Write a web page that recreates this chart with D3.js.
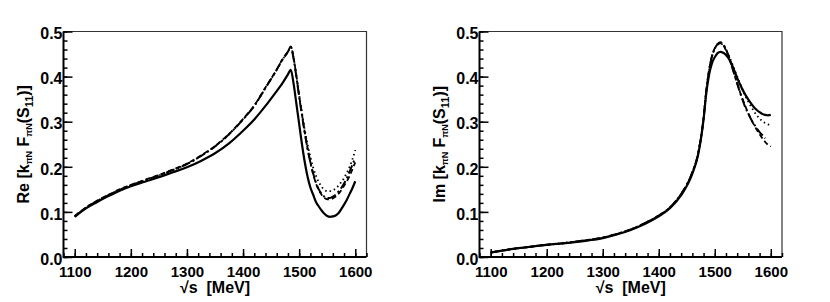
<!DOCTYPE html>
<html><head><meta charset="utf-8">
<script src="https://cdn.jsdelivr.net/npm/d3@7"></script>
<style>
body{margin:0;background:#fff;}
svg{display:block;font-family:"Liberation Sans",Arial,Helvetica,sans-serif;font-weight:bold;}
</style></head><body>
<svg id="c" width="830" height="302"></svg>
<script>
// ---- data ----
const energy = [1100,1120,1140,1160,1180,1200,1225,1250,1275,1300,1325,1350,1375,1400,1420,1440,1460,1470,1480,1485,1490,1495,1500,1505,1510,1515,1520,1525,1530,1535,1540,1545,1550,1555,1560,1565,1570,1575,1580,1585,1590,1595,1600];

const reSolid   = [0.089,0.108,0.122,0.135,0.147,0.157,0.167,0.177,0.188,0.199,0.213,0.230,0.252,0.280,0.305,0.335,0.368,0.385,0.405,0.415,0.385,0.340,0.295,0.250,0.210,0.178,0.154,0.138,0.122,0.112,0.103,0.096,0.091,0.089,0.090,0.092,0.097,0.106,0.116,0.127,0.140,0.153,0.168];
const reDashDot = [0.090,0.109,0.124,0.137,0.149,0.159,0.170,0.181,0.193,0.206,0.224,0.245,0.272,0.305,0.335,0.375,0.415,0.437,0.455,0.466,0.440,0.400,0.355,0.315,0.275,0.240,0.210,0.185,0.165,0.150,0.140,0.134,0.131,0.131,0.134,0.138,0.145,0.153,0.163,0.175,0.190,0.205,0.220];
const reDashed  = [0.091,0.110,0.125,0.138,0.150,0.160,0.171,0.182,0.194,0.207,0.225,0.246,0.273,0.306,0.336,0.376,0.416,0.438,0.456,0.467,0.442,0.402,0.357,0.316,0.276,0.240,0.210,0.184,0.163,0.148,0.138,0.131,0.128,0.128,0.130,0.134,0.140,0.148,0.158,0.168,0.180,0.195,0.210];
const reDotted  = [0.090,0.109,0.124,0.137,0.149,0.159,0.170,0.181,0.193,0.206,0.224,0.245,0.272,0.305,0.335,0.375,0.415,0.437,0.455,0.465,0.442,0.402,0.360,0.320,0.282,0.250,0.222,0.198,0.180,0.166,0.156,0.149,0.146,0.146,0.148,0.152,0.158,0.166,0.175,0.187,0.200,0.217,0.237];

const imSolid   = [0.010,0.014,0.018,0.021,0.024,0.027,0.030,0.033,0.037,0.042,0.050,0.060,0.073,0.090,0.108,0.137,0.185,0.225,0.305,0.365,0.405,0.430,0.443,0.452,0.455,0.453,0.448,0.440,0.428,0.413,0.397,0.383,0.370,0.359,0.349,0.340,0.332,0.326,0.321,0.317,0.315,0.314,0.315];
const imDashDot = [0.010,0.014,0.018,0.021,0.024,0.027,0.030,0.034,0.038,0.043,0.051,0.061,0.075,0.092,0.110,0.140,0.188,0.228,0.308,0.370,0.415,0.445,0.462,0.472,0.476,0.472,0.460,0.445,0.425,0.405,0.385,0.365,0.347,0.330,0.318,0.305,0.295,0.285,0.277,0.270,0.263,null,null];
const imDashed  = [0.010,0.014,0.018,0.021,0.024,0.027,0.030,0.034,0.038,0.043,0.051,0.061,0.075,0.092,0.110,0.140,0.188,0.228,0.308,0.370,0.415,0.446,0.463,0.472,0.474,0.470,0.458,0.443,0.425,0.405,0.385,0.366,0.349,0.333,0.318,0.305,0.293,0.282,0.272,0.263,0.255,0.249,0.245];
const imDotted  = [0.010,0.014,0.018,0.021,0.024,0.027,0.030,0.034,0.038,0.043,0.051,0.061,0.075,0.092,0.110,0.140,0.188,0.228,0.308,0.370,0.415,0.445,0.462,0.471,0.473,0.470,0.460,0.447,0.432,0.416,0.400,0.385,0.370,0.356,0.344,0.333,0.323,0.314,0.307,0.301,0.297,0.294,0.293];

const xTickLabels = [1100,1200,1300,1400,1500,1600];
const yTickLabels = [0.0,0.1,0.2,0.3,0.4,0.5];
const xDomain = [1080,1620];
const yDomain = [0,0.5];

// ---- drawing ----
const svg = d3.select("#c");
const styles = {
  solid:   {dash:null, w:2.2},
  dashdot: {dash:"9,3,2,3", w:2},
  dashed:  {dash:"5,3", w:1.8},
  dotted:  {dash:"1.5,3", w:1.8}
};
const panels = [
  {left:63.5, right:366.5, prefix:"Re", series:[["dotted",reDotted],["dashed",reDashed],["dashdot",reDashDot],["solid",reSolid]]},
  {left:479.5, right:782, prefix:"Im", series:[["dotted",imDotted],["dashed",imDashed],["dashdot",imDashDot],["solid",imSolid]]}
];
const yTop = 31.5, yBottom = 257;

panels.forEach(p => {
  const x = d3.scaleLinear().domain(xDomain).range([p.left,p.right]);
  const y = d3.scaleLinear().domain(yDomain).range([yBottom,yTop]);
  const g = svg.append("g");

  g.append("path").attr("d",`M${p.left},${yTop}H${p.right}V${yBottom}`)
    .attr("fill","none").attr("stroke","#333").attr("stroke-width",1.2);

  p.series.forEach(([st,vals]) => {
    const line = d3.line().defined(d=>d[1]!=null).x(d=>x(d[0])).y(d=>y(d[1])).curve(d3.curveMonotoneX);
    g.append("path").datum(energy.map((e,i)=>[e,vals[i]]))
      .attr("d",line).attr("fill","none").attr("stroke","#000")
      .attr("stroke-width",styles[st].w)
      .attr("stroke-dasharray",styles[st].dash);
  });

  const xMinor = d3.range(1080,1621,20);
  const xa = g.append("g").attr("transform",`translate(0,${yBottom})`)
    .call(d3.axisBottom(x).tickValues(xMinor).tickSize(-4).tickFormat(""));
  xa.select(".domain").remove();
  xa.selectAll("line").attr("stroke","#000").attr("stroke-width",1.5);
  const xb = g.append("g").attr("transform",`translate(0,${yBottom})`)
    .call(d3.axisBottom(x).tickValues(xTickLabels).tickSize(-8).tickPadding(15).tickFormat(d3.format("d")));
  xb.select(".domain").remove();
  xb.selectAll("line").attr("stroke","#000").attr("stroke-width",1.5);
  xb.selectAll("text").attr("font-size",15).attr("font-family","Liberation Sans, Arial, sans-serif").attr("font-weight","bold").attr("fill","#000").attr("dy","0.35em");

  const yMinor = d3.range(0,0.5001,0.02);
  const ya = g.append("g").attr("transform",`translate(${p.left},0)`)
    .call(d3.axisLeft(y).tickValues(yMinor).tickSize(-4).tickFormat(""));
  ya.select(".domain").remove();
  ya.selectAll("line").attr("stroke","#000").attr("stroke-width",1.5);
  const yb = g.append("g").attr("transform",`translate(${p.left},0)`)
    .call(d3.axisLeft(y).tickValues(yTickLabels).tickSize(-9).tickPadding(1).tickFormat(d3.format(".1f")));
  yb.select(".domain").remove();
  yb.selectAll("line").attr("stroke","#000").attr("stroke-width",1.5);
  yb.selectAll("text").attr("font-size",16).attr("font-family","Liberation Sans, Arial, sans-serif").attr("font-weight","bold").attr("fill","#000").attr("dy","0.45em");

  g.append("path").attr("d",`M${p.left},${yTop}V${yBottom}H${p.right}`)
    .attr("fill","none").attr("stroke","#000").attr("stroke-width",2);

  g.append("text").attr("x",(p.left+p.right)/2).attr("y",293).attr("text-anchor","middle")
    .attr("font-size",16).style("white-space","pre").text("\u221As  [MeV]");

  const t = g.append("text").attr("transform",`translate(${p.left-35},${(yTop+yBottom)/2}) rotate(-90)`)
    .attr("text-anchor","middle").attr("font-size",16);
  t.append("tspan").text(p.prefix+" [k");
  t.append("tspan").attr("font-size",9).attr("dy",3).text("\u03C0N");
  t.append("tspan").attr("dy",-3).text(" F");
  t.append("tspan").attr("font-size",9).attr("dy",3).text("\u03C0N");
  t.append("tspan").attr("dy",-3).text("(S");
  t.append("tspan").attr("font-size",11).attr("dy",4).text("11");
  t.append("tspan").attr("dy",-4).text(")]");
});
</script>
</body></html>
